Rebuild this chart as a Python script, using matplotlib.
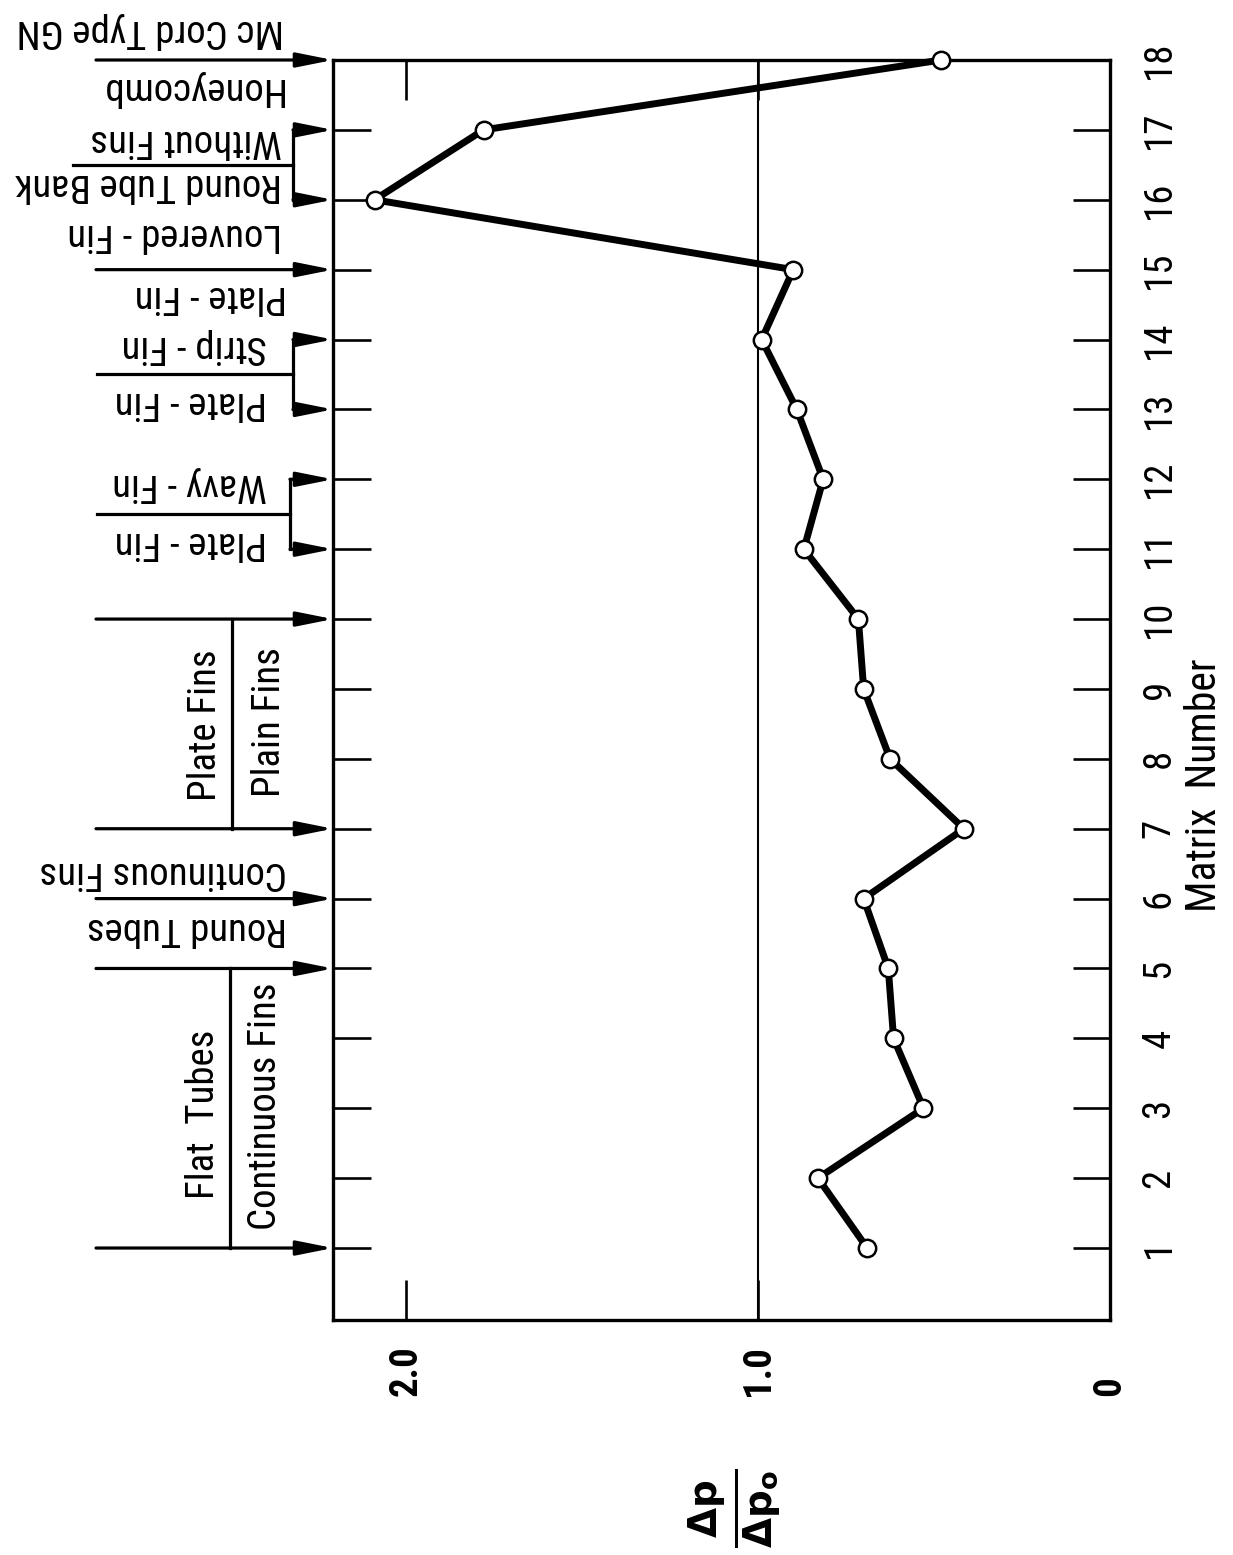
import numpy as np
import matplotlib
matplotlib.use('Agg')
import matplotlib.pyplot as plt
import matplotlib.transforms as mtransforms
from matplotlib.lines import Line2D
from matplotlib import font_manager

plt.rcParams['font.family'] = ['Liberation Sans Narrow', 'Roboto Condensed',
                               'DejaVu Sans Condensed', 'Liberation Sans', 'DejaVu Sans']

matrix = list(range(1, 19))
ratio = [0.69, 0.83, 0.53, 0.615, 0.63, 0.70, 0.415, 0.625, 0.70, 0.715,
         0.87, 0.815, 0.89, 0.99, 0.90, 2.09, 1.78, 0.48]
value_ticks = [0, 1.0, 2.0]
value_labels = ['0', '1.0', '2.0']

# where the side arrows point (matrix numbers)
arrows_long = [1, 5, 6, 7, 10, 15, 18]
brackets = [(16, 17, 293, 73), (13, 14, 293, 97), (11, 12, 290, 97)]   # lo, hi, x_vert px, x_start px
dividers = [(1, 5, 230), (7, 10, 232)]

# upside-down labels: text, right edge px, center y px
flip_labels = [
    ('Mc Cord Type GN', 284, 31),
    ('Honeycomb', 282, 89),
    ('Without Fins', 282, 141),
    ('Round Tube Bank', 282, 184),
    ('Louvered - Fin', 282, 234),
    ('Plate - Fin', 287, 297),
    ('Strip - Fin', 267, 347),
    ('Plate - Fin', 267, 403),
    ('Wavy - Fin', 267, 485),
    ('Plate - Fin', 267, 543),
    ('Continuous Fins', 287, 872),
    ('Round Tubes', 287, 928),
]
# sideways labels: text, center x px, center y px
side_labels = [
    ('Plate Fins', 206, 725),
    ('Plain Fins', 269, 722),
    ('Flat  Tubes', 204, 1114),
    ('Continuous Fins', 265, 1106),
]

used = font_manager.findfont(font_manager.FontProperties(family=plt.rcParams['font.family']))
narrow = 'Narrow' in used or 'Condensed' in used
fs = 28 if narrow else 24

W, H = 1233, 1555
fig = plt.figure(figsize=(W / 100, H / 100), dpi=100)
L, R, T, B = 333, 1110, 60, 1320
ax = fig.add_axes([L / W, 1 - B / H, (R - L) / W, (B - T) / H])

ax.plot(ratio, matrix, '-o', color='k', lw=5, ms=12.5, mfc='white',
        mec='k', mew=1.8, zorder=5, clip_on=False)
ax.axvline(1.0, color='k', lw=1.5)

ax.set_xlim(2.208, 0)
ax.set_ylim(-0.03, 18)

for s in ax.spines.values():
    s.set_linewidth(2.4)

# tick at 18 falls on the top edge, only its label shows
ax.set_yticks(matrix)
ax.set_yticklabels([str(m) for m in matrix], rotation=90, va='center')
ax.tick_params(axis='y', direction='in', length=27, width=1.9,
               left=True, right=True, labelleft=False, labelright=True,
               pad=22, labelsize=fs)

ax.set_xticks(value_ticks)
ax.set_xticklabels(value_labels, rotation=90, va='bottom', ha='center',
                   fontweight='bold')
ax.tick_params(axis='x', direction='in', length=29, width=1.9,
               top=True, bottom=True, pad=55, labelsize=fs)

ax.yaxis.set_label_position('right')
ax.set_ylabel('Matrix  Number', fontsize=fs + 2, rotation=90, va='center', ha='center')
ax.yaxis.set_label_coords((1205 - L) / (R - L), 1 - (785 - T) / (B - T))

ax.set_xlabel(r'$\mathbf{\frac{\Delta p}{\Delta p_o}}$', fontsize=40, rotation=90,
              va='center', ha='center')
ax.xaxis.set_label_coords((735 - L) / (R - L), 1 - (1508 - T) / (B - T))

# left-margin annotation lines
trans = mtransforms.blended_transform_factory(ax.transAxes, ax.transData)


def fx(px):
    return (px - L) / (R - L)


def arrow(m, x0):
    ax.annotate('', xy=(0, m), xytext=(fx(x0), m), xycoords=trans, textcoords=trans,
                arrowprops=dict(arrowstyle='-|>,head_length=1.1,head_width=0.22',
                                mutation_scale=20, lw=2.3, color='k',
                                shrinkA=0, shrinkB=0), annotation_clip=False)


for m in arrows_long:
    arrow(m, 96)

for lo, hi, xv, xs in brackets:
    arrow(lo, xv)
    arrow(hi, xv)
    ax.add_artist(Line2D([fx(xv), fx(xv)], [lo, hi], transform=trans,
                         color='k', lw=2.3, clip_on=False))
    ax.add_artist(Line2D([fx(xs), fx(xv)], [(lo + hi) / 2] * 2, transform=trans,
                         color='k', lw=2.3, clip_on=False))

for lo, hi, xv in dividers:
    ax.add_artist(Line2D([fx(xv), fx(xv)], [lo, hi], transform=trans,
                         color='k', lw=2.3, clip_on=False))

for txt, xr, yc in flip_labels:
    fig.text(xr / W, 1 - yc / H, txt, rotation=180, ha='right', va='center',
             fontsize=fs)

for txt, xc, yc in side_labels:
    fig.text(xc / W, 1 - yc / H, txt, rotation=90, ha='center', va='center',
             fontsize=fs)

fig.savefig('out.png', dpi=100)
